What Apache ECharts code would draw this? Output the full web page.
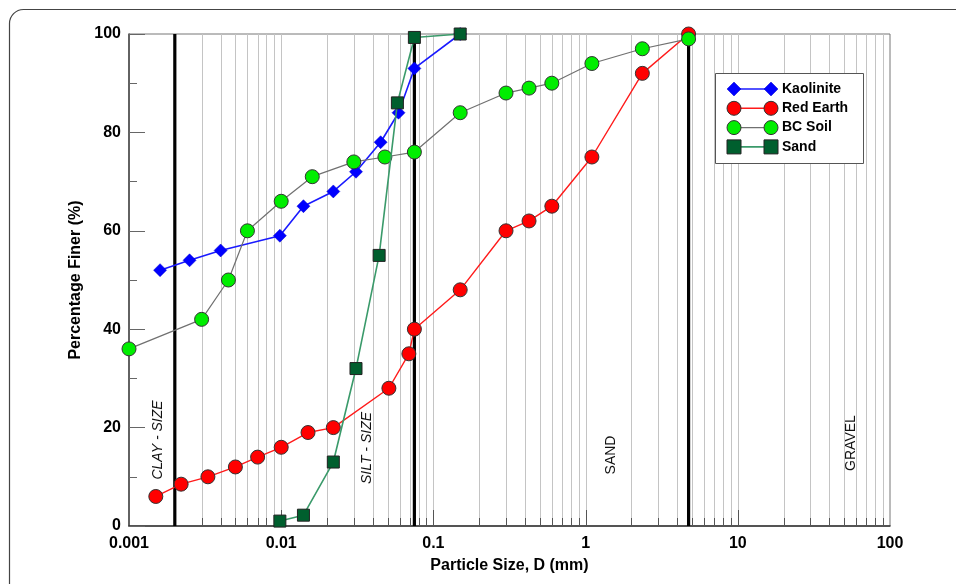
<!DOCTYPE html>
<html>
<head>
<meta charset="utf-8">
<script src="https://cdn.jsdelivr.net/npm/echarts@6/dist/echarts.min.js"></script>
<style>html,body{margin:0;padding:0;background:#fff}#c{width:956px;height:584px}</style>
</head>
<body>
<div id="c"></div>
<script>
// ---- data ----
var seriesNames = ['Kaolinite', 'Red Earth', 'BC Soil', 'Sand'];

var kaoliniteX = [0.0016, 0.0025, 0.004, 0.0098, 0.014, 0.022, 0.031, 0.045, 0.059, 0.075, 0.15];
var kaoliniteY = [52, 54, 56, 59, 65, 68, 72, 78, 84, 93, 100];

var redEarthX = [0.0015, 0.0022, 0.0033, 0.005, 0.007, 0.01, 0.015, 0.022, 0.051, 0.069, 0.075, 0.15, 0.3, 0.425, 0.6, 1.1, 2.36, 4.75];
var redEarthY = [6, 8.5, 10, 12, 14, 16, 19, 20, 28, 35, 40, 48, 60, 62, 65, 75, 92, 100];

var bcSoilX = [0.001, 0.003, 0.0045, 0.006, 0.01, 0.016, 0.03, 0.048, 0.075, 0.15, 0.3, 0.425, 0.6, 1.1, 2.36, 4.75];
var bcSoilY = [36, 42, 50, 60, 66, 71, 74, 75, 76, 84, 88, 89, 90, 94, 97, 99];

var sandX = [0.0098, 0.014, 0.022, 0.031, 0.044, 0.058, 0.075, 0.15];
var sandY = [1, 2.2, 13, 32, 55, 86, 99.3, 100];

var xTickLabels = ['0.001', '0.01', '0.1', '1', '10', '100'];
var yTickLabels = ['0', '20', '40', '60', '80', '100'];

var decades = [0.001, 0.01, 0.1, 1, 10];
var minorMultipliers = [2, 3, 4, 5, 6, 7, 8, 9];
var boundaries = [0.002, 0.075, 4.75];   // clay/silt, silt/sand, sand/gravel
var zoneNames = ['CLAY - SIZE', 'SILT - SIZE', 'SAND', 'GRAVEL'];

// ---- build ----
var FONT = 'Liberation Sans, Arial, Helvetica, sans-serif';
function pairs(xs, ys) { return xs.map(function (x, i) { return [x, ys[i]]; }); }

var gridValues = [];
decades.forEach(function (d, di) {
  if (di > 0) gridValues.push([d, 0, 1]);
  minorMultipliers.forEach(function (m) { gridValues.push([+(d * m).toPrecision(3), 0, 0]); });
});

var styles = [
  { color: '#0000ff', line: '#1a1aff', lw: 1.6, symbol: 'diamond', size: 13, border: '#0000cc', bw: 0.5 },
  { color: '#ff0000', line: '#ff1a1a', lw: 1.4, symbol: 'circle', size: 14, border: '#333', bw: 1 },
  { color: '#00ee00', line: '#707070', lw: 1.2, symbol: 'circle', size: 14, border: '#333', bw: 1 },
  { color: '#005f2e', line: '#3a9a6a', lw: 1.6, symbol: 'rect', size: 12, border: '#222', bw: 1 }
];
var dataSets = [pairs(kaoliniteX, kaoliniteY), pairs(redEarthX, redEarthY), pairs(bcSoilX, bcSoilY), pairs(sandX, sandY)];

var series = [];
series.push({
  type: 'custom', name: 'grid', silent: true, z: 1,
  data: gridValues, encode: { x: 0, y: 1 },
  renderItem: function (params, api) {
    var x = api.value(0), major = api.value(2);
    var top = api.coord([x, 100]), bot = api.coord([x, 0]);
    var px = Math.round(top[0]) + 0.5;
    return { type: 'group', children: [
      { type: 'line', shape: { x1: px, y1: top[1], x2: px, y2: bot[1] }, style: { stroke: '#c4c4c4', lineWidth: 1 } },
      { type: 'line', shape: { x1: px, y1: bot[1], x2: px, y2: bot[1] - (major ? 16 : 8) }, style: { stroke: '#555', lineWidth: 1 } }
    ] };
  }
});
series.push({
  type: 'custom', name: 'bounds', silent: true, z: 2,
  data: boundaries.map(function (b) { return [b, 0]; }), encode: { x: 0, y: 1 },
  renderItem: function (params, api) {
    var x = api.value(0);
    var top = api.coord([x, 100]), bot = api.coord([x, 0]);
    return { type: 'line', shape: { x1: top[0], y1: top[1], x2: bot[0], y2: bot[1] }, style: { stroke: '#000', lineWidth: 3.2 } };
  }
});
seriesNames.forEach(function (n, i) {
  var s = styles[i];
  series.push({
    type: 'line', name: n, data: dataSets[i], z: 5 + i, clip: false,
    symbol: s.symbol, symbolSize: s.size, showAllSymbol: true,
    lineStyle: { color: s.line, width: s.lw },
    itemStyle: { color: s.color, borderColor: s.border, borderWidth: s.bw },
    emphasis: { disabled: true }, animation: false
  });
});

// legend drawn as graphic
var legend = [];
legend.push({ type: 'rect', shape: { x: 715.5, y: 73.5, width: 148, height: 90 }, style: { fill: '#fff', stroke: '#555', lineWidth: 1 }, z: 100 });
seriesNames.forEach(function (n, i) {
  var s = styles[i];
  var y = 89 + i * 19.3;
  legend.push({ type: 'line', shape: { x1: 734, y1: y, x2: 771, y2: y }, style: { stroke: s.line, lineWidth: s.lw }, z: 101 });
  [734, 771].forEach(function (cx) {
    var el;
    if (s.symbol === 'circle') el = { type: 'circle', shape: { cx: cx, cy: y, r: 7 } };
    else if (s.symbol === 'rect') el = { type: 'rect', shape: { x: cx - 7, y: y - 7, width: 14, height: 14 } };
    else el = { type: 'polygon', shape: { points: [[cx, y - 7], [cx + 7, y], [cx, y + 7], [cx - 7, y]] } };
    el.style = { fill: s.color, stroke: s.border, lineWidth: s.bw };
    el.z = 102;
    legend.push(el);
  });
  legend.push({ type: 'text', x: 782, y: y, z: 102, style: { text: n, font: 'bold 14px ' + FONT, fill: '#000', verticalAlign: 'middle', align: 'left' } });
});

var zonePos = [[158, 440, 'italic'], [367, 448, 'italic'], [611, 455, 'normal'], [851, 443, 'normal']];
var zoneText = zoneNames.map(function (t, i) {
  return { type: 'text', x: zonePos[i][0], y: zonePos[i][1], rotation: Math.PI / 2, z: 50,
    style: { text: t, font: zonePos[i][2] + ' 14px ' + FONT, fill: '#111', align: 'center', verticalAlign: 'middle' } };
});

var frame = { type: 'rect', shape: { x: 9.5, y: 9.5, width: 1000, height: 640, r: 14 }, style: { fill: 'none', stroke: '#444', lineWidth: 1.2 }, z: 0, silent: true };

var chart = echarts.init(document.getElementById('c'), null, { renderer: 'canvas' });
chart.setOption({
  animation: false,
  backgroundColor: '#fff',
  grid: { left: 129, right: 66, top: 34, bottom: 58, show: true, borderColor: '#777', borderWidth: 1 },
  xAxis: {
    type: 'log', logBase: 10, min: 0.001, max: 100,
    name: 'Particle Size, D (mm)', nameLocation: 'middle', nameGap: 32,
    nameTextStyle: { fontFamily: FONT, fontWeight: 'bold', fontSize: 16, color: '#000' },
    axisLine: { lineStyle: { color: '#333', width: 1.5 } },
    axisTick: { show: false }, minorTick: { show: false },
    splitLine: { show: false },
    axisLabel: {
      fontFamily: FONT, fontWeight: 'bold', fontSize: 16, color: '#000', margin: 10,
      formatter: function (v) { var k = Math.round(Math.log10(v)) + 3; return xTickLabels[k] !== undefined ? xTickLabels[k] : ''; }
    }
  },
  yAxis: {
    type: 'value', min: 0, max: 100, interval: 20,
    name: 'Percentage Finer (%)', nameLocation: 'middle', nameGap: 41,
    nameTextStyle: { fontFamily: FONT, fontWeight: 'bold', fontSize: 16, color: '#000' },
    axisLine: { show: true, lineStyle: { color: '#444', width: 1.5 } },
    axisTick: { show: true, inside: true, length: 16, lineStyle: { color: '#666' } },
    minorTick: { show: true, splitNumber: 2, length: 8, lineStyle: { color: '#666' } },
    splitLine: { show: false },
    axisLabel: {
      fontFamily: FONT, fontWeight: 'bold', fontSize: 16, color: '#000', margin: 8,
      formatter: function (v) { return yTickLabels[Math.round(v / 20)]; }
    }
  },
  graphic: [frame].concat(zoneText, legend),
  series: series
});
</script>
</body>
</html>
